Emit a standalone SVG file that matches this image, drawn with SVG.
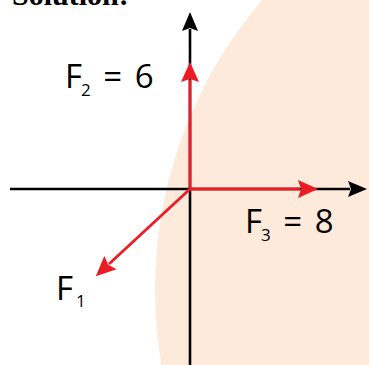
<svg xmlns="http://www.w3.org/2000/svg" width="369" height="365" viewBox="0 0 369 365">
  <style>
    .axis { stroke: #000; stroke-width: 2.6; fill: none; }
    .vec { stroke: #ED1C24; stroke-width: 2.8; fill: none; }
    .lbl { font-family: "Open Sans", "Noto Sans", sans-serif; font-size: 33px; fill: #000; }
    .sub { font-size: 17px; }
  </style>
  <defs>
    <marker id="ahBlack" markerUnits="userSpaceOnUse" markerWidth="24" markerHeight="20" refX="2" refY="8" orient="auto" viewBox="0 0 24 20">
      <path d="M0,0 L19,8 L0,16 L3,8 Z" fill="#000"/>
    </marker>
    <marker id="ahRed" markerUnits="userSpaceOnUse" markerWidth="24" markerHeight="20" refX="2" refY="9" orient="auto" viewBox="0 0 24 20">
      <path d="M0,0 L20,9 L0,18 L3,9 Z" fill="#ED1C24"/>
    </marker>
  </defs>
  <circle cx="601" cy="290" r="446" fill="#FDEADA"/>
  <text x="12" y="5" font-family="'Liberation Serif', serif" font-weight="bold" font-size="30">Solution:</text>
  <g id="connectors">
    <line class="axis" x1="190" y1="365" x2="190" y2="29" marker-end="url(#ahBlack)"/>
    <line class="axis" x1="10" y1="189" x2="350" y2="189" marker-end="url(#ahBlack)"/>
    <line class="vec" x1="190" y1="189" x2="190" y2="80" marker-end="url(#ahRed)"/>
    <line class="vec" x1="190" y1="189" x2="300" y2="189" marker-end="url(#ahRed)"/>
    <line class="vec" x1="190" y1="189" x2="109" y2="264" marker-end="url(#ahRed)"/>
  </g>
  <g id="F2">
    <text class="lbl" x="65" y="88" word-spacing="4">F<tspan class="sub" dx="-1" dy="8">2</tspan><tspan dy="-8"> = 6</tspan></text>
  </g>
  <g id="F3">
    <text class="lbl" x="245" y="233" word-spacing="4">F<tspan class="sub" dx="-1" dy="8">3</tspan><tspan dy="-8"> = 8</tspan></text>
  </g>
  <g id="F1">
    <text class="lbl" x="56" y="300">F<tspan class="sub" dx="3" dy="7">1</tspan></text>
  </g>
</svg>
